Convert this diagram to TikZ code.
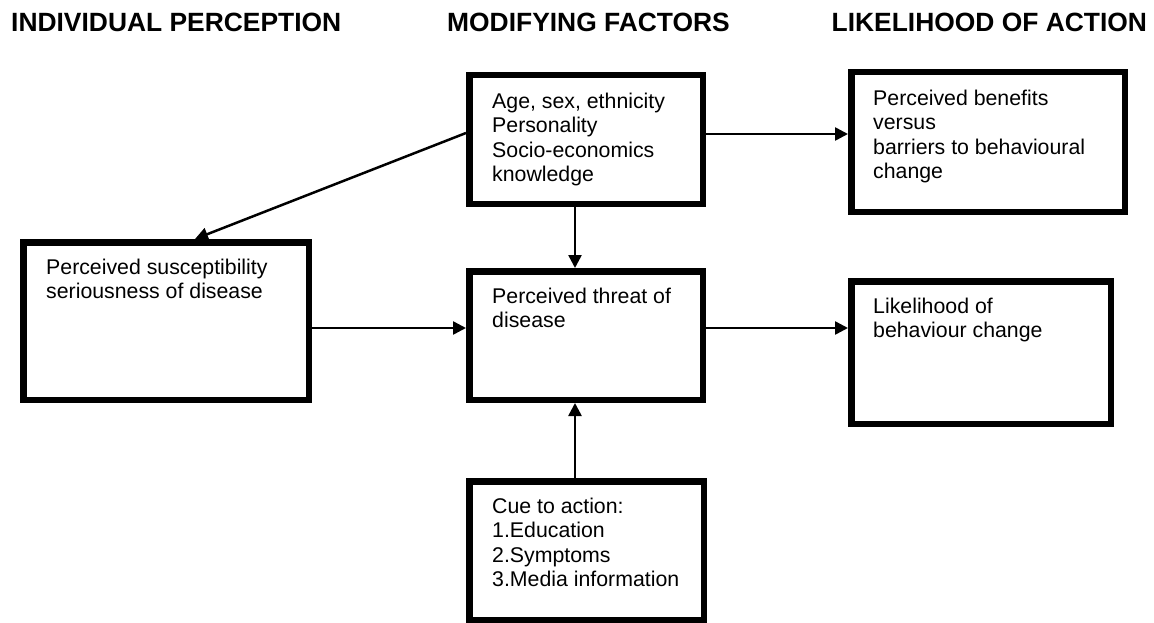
\documentclass[tikz,border=0pt]{standalone}
\usepackage{fontspec}
\setmainfont{Liberation Sans}
\usetikzlibrary{arrows.meta}
\tikzset{
  box/.style={draw, line width=6.5pt, inner sep=0pt, rectangle},
  arr/.style={line width=2.5pt, -{Triangle[length=13pt,width=13pt]}},
  txt/.style={font=\fontsize{21.3}{24.5}\selectfont, align=left, inner sep=0pt, anchor=north west},
  head/.style={font=\bfseries\fontsize{26.4}{30}\selectfont, inner sep=0pt, anchor=base west}
}
\begin{document}
\begin{tikzpicture}[x=1pt,y=-1pt]
\useasboundingbox (0,0) rectangle (1154,623);
% headings
\node[head] (h1) at (11,31.7) {INDIVIDUAL PERCEPTION};
\node[head] (h2) at (447,31.7) {MODIFYING FACTORS};
\node[head] (h3) at (831.5,31.7) {LIKELIHOOD OF ACTION};
% boxes
\node[box, minimum width=233.5pt, minimum height=128.5pt] (A) at (586,139.5) {};
\node[box, minimum width=285.5pt, minimum height=157.5pt] (B) at (166,321) {};
\node[box, minimum width=233.5pt, minimum height=128.5pt] (C) at (586,335.5) {};
\node[box, minimum width=234.5pt, minimum height=138.5pt] (D) at (586.5,550.5) {};
\node[box, minimum width=273.5pt, minimum height=139.5pt] (E) at (988,142) {};
\node[box, minimum width=259.5pt, minimum height=142.5pt] (F) at (981,352.5) {};
% texts
\node[txt] (tA) at (492,90.85) {\strut Age, sex, ethnicity\\Personality\\Socio-economics\\knowledge};
\node[txt] (tB) at (46,256.85) {\strut Perceived susceptibility\\seriousness of disease};
\node[txt] (tC) at (492,285.85) {\strut Perceived threat of\\disease};
\node[txt] (tD) at (492,495.85) {\strut Cue to action:\\1.Education\\2.Symptoms\\3.Media information};
\node[txt] (tE) at (873,87.85) {\strut Perceived benefits\\versus\\barriers to behavioural\\change};
\node[txt] (tF) at (873,295.85) {\strut Likelihood of\\behaviour change};
% connectors
\draw[arr] (A.west |- 0,133) -- (B.north -| 195,0);
\draw[arr] (A.east |- 0,134) -- (E.west |- 0,134);
\draw[arr] (A.south -| 575,0) -- (C.north -| 575,0);
\draw[arr] (B.east |- 0,328) -- (C.west |- 0,328);
\draw[arr] (C.east |- 0,328) -- (F.west |- 0,328);
\draw[arr] (D.north -| 575,0) -- (C.south -| 575,0);
\end{tikzpicture}
\end{document}
